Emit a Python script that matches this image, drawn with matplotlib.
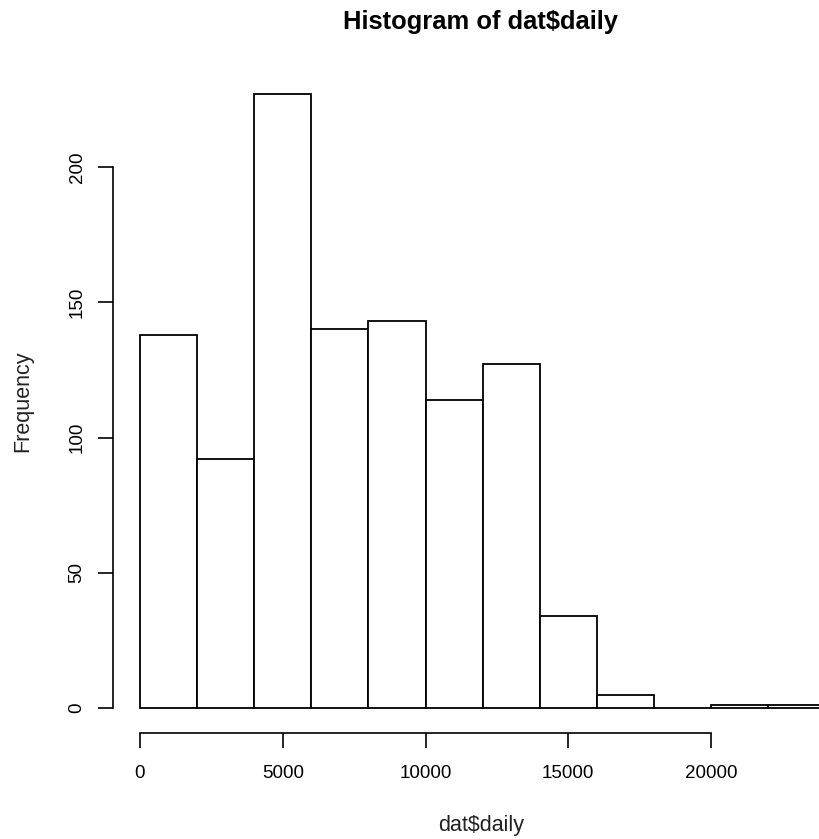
import numpy as np
import matplotlib.pyplot as plt

plt.rcParams['font.family'] = ['Liberation Sans', 'DejaVu Sans']

# histogram of dat$daily (bins of 2000)
bin_edges = [0, 2000, 4000, 6000, 8000, 10000, 12000, 14000, 16000, 18000, 20000, 22000, 24000]
counts = [138, 92, 227, 140, 143, 114, 127, 34, 5, 0, 1, 1]
x_ticks = [0, 5000, 10000, 15000, 20000]
y_ticks = [0, 50, 100, 150, 200]

fig = plt.figure(figsize=(8.2, 8.39), dpi=100)
# R-style plot region, extends past the right edge (original was cropped)
ax = fig.add_axes([0.1373, 0.1268, 0.9025, 0.7905])

edges = np.array(bin_edges)
ax.bar(edges[:-1], counts, width=np.diff(edges), align='edge',
       color='white', edgecolor='black', linewidth=1.3)

ax.set_xlim(-960, 24960)
ax.set_ylim(-9.08, 236.08)

for s in ['top', 'right']:
    ax.spines[s].set_visible(False)
ax.spines['left'].set_bounds(0, 200)
ax.spines['bottom'].set_bounds(0, 20000)
ax.spines['left'].set_linewidth(1.2)
ax.spines['bottom'].set_linewidth(1.2)

ax.set_xticks(x_ticks)
ax.set_yticks(y_ticks)
ax.set_yticklabels([str(v) for v in y_ticks], rotation=90, va='center')
ax.tick_params(axis='both', length=10.5, width=1.2, labelsize=13.5)
ax.tick_params(axis='x', pad=13)
ax.tick_params(axis='y', pad=9)

ax.set_xlabel('dat$daily', fontsize=15.5, color='#222222', va='center')
ax.xaxis.set_label_coords(0.4985, -0.1408)
ax.set_ylabel('Frequency', fontsize=15.5, color='#222222', ha='center', va='center')
ax.yaxis.set_label_coords(-0.121, 0.5)
fig.text(0.586, 1 - 22 / 839, 'Histogram of dat$daily', ha='center', va='center',
         fontsize=18.4, fontweight='bold')

fig.savefig('out.png', dpi=100)
